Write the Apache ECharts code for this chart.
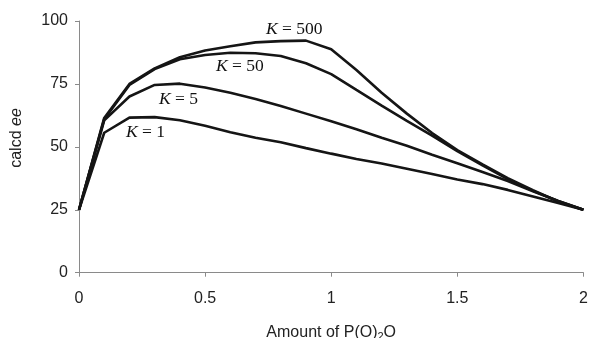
<!DOCTYPE html>
<html><head><meta charset="utf-8">
<script src="https://cdn.jsdelivr.net/npm/echarts@6/dist/echarts.min.js"></script>
<style>html,body{margin:0;padding:0;background:#fff}#c{width:591px;height:338px}</style>
</head><body><div id="c"></div>
<script>
var xValues = [0,0.1,0.2,0.3,0.4,0.5,0.6,0.7,0.8,0.9,1.0,1.1,1.2,1.3,1.4,1.5,1.6,1.7,1.8,1.9,2.0];
var k1   = [25,55.6,61.6,61.8,60.6,58.4,55.8,53.6,51.8,49.5,47.3,45.2,43.4,41.3,39.2,37.0,35.2,32.9,30.3,27.7,25];
var k5   = [25,60.5,70.0,74.6,75.1,73.6,71.5,69.0,66.2,63.2,60.2,57.0,53.6,50.4,46.9,43.5,40.0,36.4,32.3,28.5,25];
var k50  = [25,61.0,74.6,80.9,84.8,86.5,87.4,87.2,86.1,83.2,78.9,72.6,66.4,60.3,54.5,48.3,42.6,37.2,32.5,28.5,25];
var k500 = [25,61.5,75.0,81.2,85.6,88.3,90.0,91.5,92.0,92.2,88.8,80.5,71.5,63.2,55.5,48.7,43.0,37.6,32.8,28.3,25];
var seriesNames = ['K = 1','K = 5','K = 50','K = 500'];
var xTicks = [0,0.5,1,1.5,2];
var yTicks = [0,25,50,75,100];

function pairs(arr){ return xValues.map(function(x,i){ return [x, arr[i]]; }); }
var all = [k1,k5,k50,k500];
var chart = echarts.init(document.getElementById('c'));
var axisColor = '#8a8a8a';
var sans = '"Liberation Sans", Arial, sans-serif';
var serif = '"Liberation Serif","Times New Roman",serif';
var lbl = {fontFamily:sans, fontSize:16, color:'#222'};
function kLabel(x,y,num){
  return {type:'text', left:x, top:y, style:{
    text:'{k|K} = '+num, rich:{k:{fontStyle:'italic', fontFamily:serif, fontSize:17.5, fill:'#111'}},
    font:'17.5px '+serif, fill:'#111'}};
}
chart.setOption({
  animation:false,
  grid:{left:79, right:7.6, top:21, bottom:65.3, containLabel:false, outerBoundsMode:'none'},
  xAxis:{type:'value', min:0, max:2, interval:0.5,
    axisLine:{lineStyle:{color:axisColor,width:1}},
    axisTick:{show:true, length:4, lineStyle:{color:axisColor}},
    splitLine:{show:false},
    axisLabel:Object.assign({margin:18, formatter:function(v){return String(v);}}, lbl),
    name:'Amount of P(O){s|2}O', nameLocation:'middle', nameGap:50,
    nameTextStyle:{fontFamily:sans, fontSize:16, color:'#222',
      rich:{s:{fontSize:11, verticalAlign:'bottom', padding:[9,0,0,0], fontFamily:sans, color:'#222'}}}
  },
  yAxis:{type:'value', min:0, max:100, interval:25,
    axisLine:{show:true, lineStyle:{color:axisColor,width:1}},
    axisTick:{show:true, length:4, lineStyle:{color:axisColor}},
    splitLine:{show:false},
    axisLabel:Object.assign({margin:11}, lbl)
  },
  series: all.map(function(arr,i){
    return {name:seriesNames[i], type:'line', data:pairs(arr), showSymbol:false, symbol:'none',
      lineStyle:{color:'#151515', width:2.6}, z:2+i};
  }),
  graphic:[
    kLabel(266,20,'500'),
    kLabel(216,57,'50'),
    kLabel(159,90,'5'),
    kLabel(126,123,'1'),
    {type:'text', x:17, y:138, rotation:Math.PI/2, style:{
      text:'calcd {i|ee}', font:'16px '+sans, fill:'#222', align:'center', verticalAlign:'middle',
      rich:{i:{fontStyle:'italic', fontFamily:sans, fontSize:16, fill:'#222'}}}}
  ]
});
</script></body></html>
